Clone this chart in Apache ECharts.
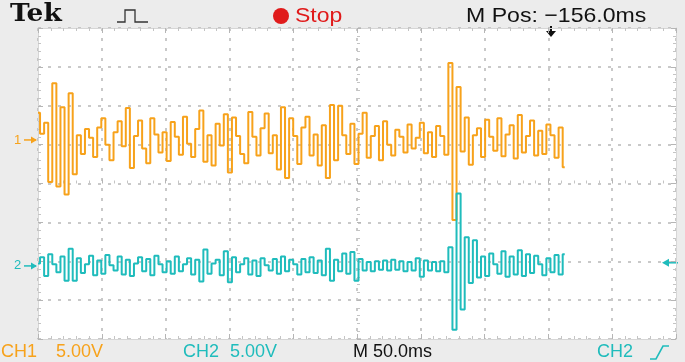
<!DOCTYPE html>
<html>
<head>
<meta charset="utf-8">
<script src="https://cdn.jsdelivr.net/npm/echarts@6/dist/echarts.min.js"></script>
<style>
  html, body { margin: 0; padding: 0; background: #ececec; }
  #main { width: 685px; height: 362px; }
</style>
</head>
<body>
<div id="main"></div>
<script>
// scope settings
const sampleMs = 3.2;      // time between stored samples
const screenMs = 500;      // 10 div x 50.0ms
const screenVolts = 20;    // 4 div x 5.00V above and below centre
const ch1Pos = 5.6;        // trace ground marker, volts from centre
const ch2Pos = -10.6;
const trigLevel = -10.2;

// samples, volts relative to each channel's ground
const ch1Volts = [
  3.5, 0.8, 2.2, -5.4, 7.3, -6.0, 4.2, -7.0, 6.0, -4.4,
  0.6, -1.8, 1.4, 0.3, -2.2, 1.6, 2.8, -0.6, -2.6, 1.0,
  2.4, -0.8, 4.1, -3.6, 0.5, 2.5, -1.1, -3.0, 2.8, 0.7,
  -1.6, 1.0, -2.7, 2.3, 0.4, -1.9, 3.0, -0.5, -2.2, 1.4,
  3.8, -2.8, 0.6, -3.3, 2.1, -0.7, 3.3, -4.2, 2.9, 0.5,
  -1.8, -3.0, 3.6, 0.4, -2.0, 1.5, 3.4, -1.7, 0.6, -3.8,
  4.2, -4.9, 2.8, 0.5, -3.1, 1.6, 3.0, -2.0, 0.7, -3.3,
  1.9, -4.9, 4.5, -2.6, 4.4, 0.6, -1.8, 2.1, -3.1, 0.8,
  3.5, -2.3, 0.5, 1.8, -2.6, 2.4, -0.6, -2.0, 1.3, 0.4,
  -1.6, 2.0, -1.1, 0.3, 2.2, -1.7, 1.0, -2.2, 1.8, 0.5,
  -1.9, 9.9, -10.3, 6.8, -1.5, 2.9, -3.2, 0.6, 1.5, -2.2,
  2.6, 0.4, -1.4, 2.8, -2.1, 0.7, 1.9, -2.4, 3.2, -1.6,
  0.5, 2.5, -2.0, 1.2, -1.8, 2.0, 0.6, -2.3, 1.6, -3.5
];
const ch2Volts = [
  0.3, 1.1, -1.3, 1.5, 0.2, -0.8, 1.2, -1.9, 2.2, -1.9,
  1.0, -0.9, 0.2, 1.3, -1.2, 0.7, -1.0, 1.4, 0.1, -0.6,
  1.2, -1.1, 0.8, -1.3, 0.3, 1.1, -0.7, 0.9, -1.2, 1.3,
  0.2, -0.8, 0.6, -1.0, 1.2, -0.7, 0.2, 1.0, -1.1, 0.8,
  -2.0, 2.1, -1.0, 0.3, 0.8, -1.2, 1.9, -2.1, 1.1, -0.8,
  0.2, 1.0, -1.1, 0.7, -1.3, 1.0, 0.1, -0.6, 0.9, -1.0,
  1.2, -0.7, 0.8, 0.2, -1.1, 0.9, -0.8, 1.1, -0.9, 0.7,
  -1.2, 2.2, -1.9, 0.8, -0.7, 1.6, -1.0, 1.8, -1.9, 0.9,
  -0.6, 0.5, -0.7, 0.6, -0.5, 0.7, -0.6, 0.8, -0.5, 0.6,
  -0.7, 0.5, -0.6, 1.0, -1.4, 0.7, -0.6, 0.5, -0.7, 0.6,
  -0.8, 2.4, -8.2, 9.3, -5.6, 3.7, -2.2, 3.3, -1.5, 1.2,
  -1.3, 1.6, 0.2, -1.0, 1.9, -1.4, 1.2, -1.1, 2.0, -1.3,
  1.5, -0.9, 1.3, 0.2, -1.2, 1.0, -0.8, 1.4, -1.1, 1.5
];

const orange = '#f7a21b';
const teal = '#1fbcbc';

const toPoints = (vals, pos) => vals.map((v, i) => [i * sampleMs, pos + v]);

const gridRect = { left: 38, top: 28, width: 638, height: 311 };
const dots = { show: true, lineStyle: { color: '#b8b8b8', width: 1.5, type: [3, 7] } };
const edgeLine = { show: true, onZero: false, lineStyle: { color: '#d6d6d6' } };
const tick = { show: true, inside: true, length: 5, lineStyle: { color: '#b5b5b5' } };
const minor = { show: true, splitNumber: 5, length: 3, lineStyle: { color: '#c4c4c4' } };
const noLabel = { show: false };

const chart = echarts.init(document.getElementById('main'));

chart.setOption({
  animation: false,
  backgroundColor: '#ececec',
  grid: [
    Object.assign({ show: true, backgroundColor: '#ffffff', borderWidth: 0 }, gridRect),
    Object.assign({ show: false }, gridRect)
  ],
  xAxis: [
    { gridIndex: 0, type: 'value', min: 0, max: screenMs, interval: 50, position: 'bottom',
      axisLine: edgeLine, axisTick: tick, minorTick: minor, axisLabel: noLabel, splitLine: dots },
    { gridIndex: 0, type: 'value', min: 0, max: screenMs, interval: 50, position: 'top',
      axisLine: edgeLine, axisTick: tick, minorTick: minor, axisLabel: noLabel, splitLine: { show: false } },
    { gridIndex: 1, type: 'value', min: -screenMs / 2, max: screenMs / 2, interval: 50,
      axisLine: { show: false, onZero: true }, axisTick: { show: true, inside: true, length: 4, lineStyle: { color: '#b5b5b5' } },
      minorTick: minor, axisLabel: noLabel, splitLine: { show: false } }
  ],
  yAxis: [
    { gridIndex: 0, type: 'value', min: -screenVolts, max: screenVolts, interval: 5, position: 'left',
      axisLine: edgeLine, axisTick: tick, minorTick: minor, axisLabel: noLabel, splitLine: dots },
    { gridIndex: 0, type: 'value', min: -screenVolts, max: screenVolts, interval: 5, position: 'right',
      axisLine: edgeLine, axisTick: tick, minorTick: minor, axisLabel: noLabel, splitLine: { show: false } },
    { gridIndex: 1, type: 'value', min: -screenVolts, max: screenVolts, interval: 5,
      axisLine: { show: false, onZero: true }, axisTick: { show: true, inside: true, length: 4, lineStyle: { color: '#b5b5b5' } },
      minorTick: minor, axisLabel: noLabel, splitLine: { show: false } }
  ],
  series: [
    { name: 'CH1', type: 'line', xAxisIndex: 0, yAxisIndex: 0, step: 'middle', showSymbol: false,
      data: toPoints(ch1Volts, ch1Pos), lineStyle: { color: orange, width: 2 }, z: 3 },
    { name: 'CH2', type: 'line', xAxisIndex: 0, yAxisIndex: 0, step: 'middle', showSymbol: false,
      data: toPoints(ch2Volts, ch2Pos), lineStyle: { color: teal, width: 2 }, z: 4 }
  ]
});

// readouts and channel markers
const y1 = chart.convertToPixel({ gridIndex: 0 }, [0, ch1Pos])[1];
const y2 = chart.convertToPixel({ gridIndex: 0 }, [0, ch2Pos])[1];
const yT = chart.convertToPixel({ gridIndex: 0 }, [0, trigLevel])[1];
const font = (size, weight) => (weight || 'normal') + ' ' + size + 'px "Liberation Sans", Arial, sans-serif';
const txt = (x, y, text, fill, size, extra) => ({
  type: 'text', x: x, y: y,
  style: Object.assign({ text: text, fill: fill, font: font(size), verticalAlign: 'middle' }, extra || {})
});

chart.setOption({
  graphic: [
    { type: 'text', x: 10, y: 15, scaleX: 1.1, style: { text: 'Tek', fill: '#111', font: 'bold 24px "DejaVu Serif", serif', verticalAlign: 'middle' } },
    { type: 'polyline', shape: { points: [[117, 22], [125, 22], [125, 10], [135, 10], [135, 22], [148, 22]] },
      style: { stroke: '#333', lineWidth: 1.3, fill: null } },
    { type: 'circle', shape: { cx: 281, cy: 16, r: 8 }, style: { fill: '#e01a1a' } },
    Object.assign(txt(295, 16, 'Stop', '#e01a1a', 20), { scaleX: 1.15 }),
    Object.assign(txt(466, 16, 'M Pos: \u2212156.0ms', '#111', 21), { scaleX: 1.1 }),
    { type: 'polyline', shape: { points: [[551, 26], [551, 34]] }, style: { stroke: '#111', lineWidth: 2 } },
    { type: 'polygon', shape: { points: [[546, 31], [556, 31], [551, 37]] }, style: { fill: '#111' } },

    txt(1, 352, 'CH1', orange, 18),
    txt(56, 352, '5.00V', orange, 18),
    txt(183, 352, 'CH2', teal, 18),
    txt(230, 352, '5.00V', teal, 18),
    txt(353, 352, 'M 50.0ms', '#111', 18),
    txt(597, 352, 'CH2', teal, 18),
    { type: 'polyline', shape: { points: [[650, 359], [656, 359], [663, 346], [669, 346]] },
      style: { stroke: teal, lineWidth: 1.6, fill: null } },

    txt(14, y1, '1', orange, 13),
    { type: 'polyline', shape: { points: [[24, y1], [36, y1]] }, style: { stroke: orange, lineWidth: 1.5 } },
    { type: 'polygon', shape: { points: [[31, y1 - 3.5], [37, y1], [31, y1 + 3.5]] }, style: { fill: orange } },
    txt(14, y2, '2', teal, 13),
    { type: 'polyline', shape: { points: [[24, y2], [36, y2]] }, style: { stroke: teal, lineWidth: 1.5 } },
    { type: 'polygon', shape: { points: [[31, y2 - 3.5], [37, y2], [31, y2 + 3.5]] }, style: { fill: teal } },
    { type: 'polyline', shape: { points: [[664, yT], [678, yT]] }, style: { stroke: teal, lineWidth: 1.5 } },
    { type: 'polygon', shape: { points: [[669, yT - 4], [662, yT], [669, yT + 4]] }, style: { fill: teal } }
  ]
});
</script>
</body>
</html>
